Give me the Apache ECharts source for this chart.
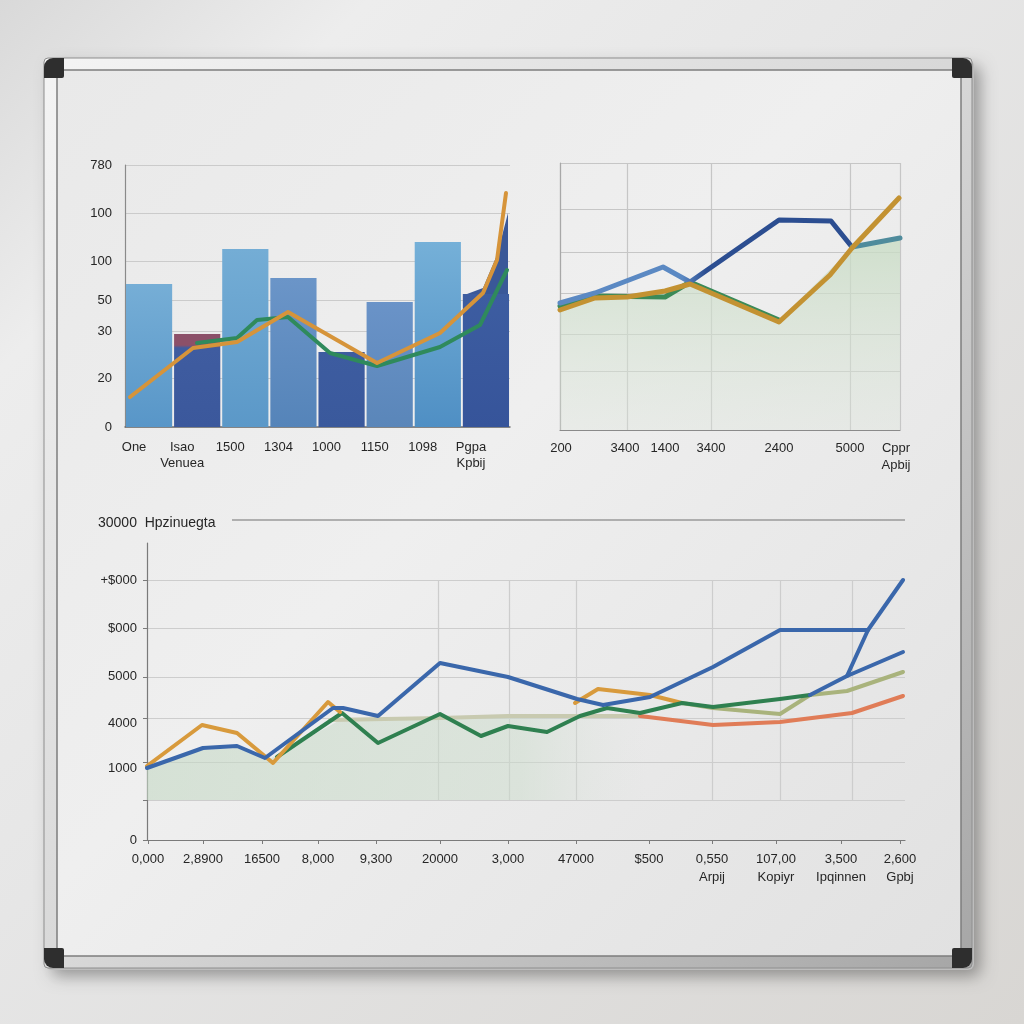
<!DOCTYPE html>
<html><head><meta charset="utf-8">
<script src="https://cdn.jsdelivr.net/npm/echarts@6/dist/echarts.min.js"></script>
<style>html,body{margin:0;padding:0;background:#e4e4e4}#c{width:1024px;height:1024px}</style>
</head><body><div id="c"></div>
<script>
// ---------- Chart 1 (top-left bars + lines) ----------
const c1Categories = ['One', 'Isao\nVenuea', '1500', '1304', '1000', '1150', '1098', 'Pgpa\nKpbij'];
const c1Bars = [143, 93, 178, 149, 75, 125, 185, 133];
const c1YTicks = [0, 49, 96, 127, 166, 214, 262];
const c1YLabels = ['0', '20', '30', '50', '100', '100', '780'];
const c1Orange = [[5, 30], [68, 79], [112, 85], [163, 115], [252, 64], [315, 94], [358, 134], [372, 167], [381, 234]];
const c1Green = [[72, 84], [112, 89], [132, 107], [163, 110], [205, 74], [252, 61], [315, 80], [355, 102], [382, 157]];
const c1Spike = [[342, 133], [358, 139], [372, 172], [383, 214]];

// ---------- Chart 2 (top-right lines) ----------
const c2XGrid = [0, 67, 151, 290, 340];
const c2XLabelPos = [1, 65, 105, 151, 219, 290, 336];
const c2XLabels = ['200', '3400', '1400', '3400', '2400', '5000', 'Cppr\nApbij'];
const c2YGrid = [0, 59, 96, 137, 178, 221, 267];
const c2Blue = [[0, 127], [35, 137], [103, 163], [130, 148], [219, 210], [271, 209], [292, 183]];
const c2Teal = [[292, 183], [340, 192]];
const c2Green = [[0, 124], [35, 134], [105, 133], [130, 148], [219, 110]];
const c2Orange = [[0, 120], [35, 132], [67, 133], [105, 139], [130, 146], [219, 108], [270, 155], [292, 182], [339, 232]];
const c2Area = [[0, 124], [35, 134], [105, 133], [130, 148], [219, 110], [292, 182], [340, 192]];

// ---------- Chart 3 (bottom lines) ----------
const c3Title = '30000  Hpzinuegta';
const c3XLabelPos = [1, 56, 115, 171, 229, 293, 361, 429, 502, 565, 629, 694, 753];
const c3XLabels = ['0,000', '2,8900', '16500', '8,000', '9,300', '20000', '3,000', '47000', '$500',
  '0,550\nArpij', '107,00\nKopiyr', '3,500\nIpqinnen', '2,600\nGpbj'];
const c3YGrid = [0, 40, 78, 122, 163, 212, 260];
const c3YLabelPos = [0, 72, 117, 164, 212, 260];
const c3YLabels = ['0', '1000', '4000', '5000', '$000', '+$000'];
const c3VGrid = [291, 362, 429, 565, 633, 705];
const c3Blue1 = [[0, 72], [56, 92], [90, 94], [118, 82], [186, 132], [196, 132], [231, 124], [293, 177], [361, 163],
  [430, 141], [456, 135], [503, 143], [566, 173], [633, 210], [721, 210], [756, 260]];
const c3Blue2 = [[663, 145], [700, 164], [756, 188]];
const c3Blue3 = [[700, 164], [721, 210]];
const c3Orange1 = [[0, 74], [55, 115], [90, 107], [126, 77], [181, 138], [193, 128]];
const c3Orange2 = [[428, 137], [451, 151], [503, 145], [535, 137]];
const c3Green = [[130, 83], [195, 127], [231, 97], [293, 126], [334, 104], [361, 114], [400, 108], [433, 124],
  [460, 132], [493, 127], [535, 137], [566, 133], [633, 141], [663, 145]];
const c3Olive = [[535, 137], [566, 132], [633, 126], [663, 145], [700, 149], [756, 168]];
const c3OliveFlat = [[183, 120], [293, 122], [361, 124], [430, 124], [493, 124]];
const c3Red = [[493, 124], [566, 115], [633, 118], [705, 127], [756, 144]];
const c3Area = [[0, 72], [56, 90], [90, 92], [121, 80], [193, 120], [293, 122], [361, 124], [430, 124], [500, 124]];

const FONT = "'Liberation Sans','Roboto',sans-serif";
const G = echarts.graphic;
const vgrad = (a, b) => new G.LinearGradient(0, 0, 0, 1, [{offset: 0, color: a}, {offset: 1, color: b}]);

const barStyles = [
  vgrad('#76aed6', '#5896c8'),
  new G.LinearGradient(0, 0, 0, 1, [{offset: 0, color: '#8c5069'}, {offset: 0.12, color: '#8c5069'}, {offset: 0.15, color: '#3f5ca0'}, {offset: 1, color: '#3b589c'}]),
  vgrad('#74add5', '#5b98c8'),
  vgrad('#6b95c8', '#5584b9'),
  vgrad('#3d5ca0', '#3a599c'),
  vgrad('#6a93c8', '#5a86b9'),
  vgrad('#75b0d8', '#4f8fc4'),
  vgrad('#3d5da1', '#36549a')
];

function line(name, xi, yi, data, color, width, z, extra) {
  return Object.assign({
    name, type: 'line', xAxisIndex: xi, yAxisIndex: yi, data, symbol: 'none', z: z || 3,
    lineStyle: {color, width, cap: 'round', join: 'round'}, silent: true, animation: false
  }, extra || {});
}

const labelBase = {color: '#262626', fontSize: 13, fontFamily: FONT};

const option = {
  animation: false,
  graphic: {elements: [
    {type: 'rect', z: -100, shape: {x: 0, y: 0, width: 1024, height: 1024},
      style: {fill: new G.LinearGradient(0, 0, 1, 1, [{offset: 0, color: '#d9d9d9'}, {offset: 0.18, color: '#ededed'}, {offset: 0.45, color: '#e6e6e6'}, {offset: 1, color: '#d8d6d3'}])}},
    {type: 'rect', z: -99, shape: {x: 46, y: 60, width: 928, height: 910, r: 6},
      style: {fill: '#bdbdbd', shadowBlur: 16, shadowColor: 'rgba(0,0,0,0.35)', shadowOffsetX: 6, shadowOffsetY: 6}},
    {type: 'rect', z: -98, shape: {x: 44, y: 58, width: 928, height: 910, r: 4},
      style: {fill: new G.LinearGradient(0, 0, 1, 1, [{offset: 0, color: '#f4f4f4'}, {offset: 0.5, color: '#d8d8d8'}, {offset: 1, color: '#a6a6a6'}]), stroke: '#8e8e8e', lineWidth: 1}},
    {type: 'rect', z: -97, shape: {x: 57, y: 70, width: 904, height: 886},
      style: {fill: new G.LinearGradient(0, 0, 1, 1, [{offset: 0, color: '#e9e9e9'}, {offset: 0.45, color: '#efefef'}, {offset: 1, color: '#e1e1e1'}]), stroke: '#7e7e7e', lineWidth: 1.5}},
    {type: 'rect', z: -96, shape: {x: 44, y: 58, width: 20, height: 20, r: [9, 0, 2, 0]}, style: {fill: '#2e2e2e'}},
    {type: 'rect', z: -96, shape: {x: 952, y: 58, width: 20, height: 20, r: [0, 9, 0, 2]}, style: {fill: '#2e2e2e'}},
    {type: 'rect', z: -96, shape: {x: 44, y: 948, width: 20, height: 20, r: [0, 2, 0, 9]}, style: {fill: '#2e2e2e'}},
    {type: 'rect', z: -96, shape: {x: 952, y: 948, width: 20, height: 20, r: [2, 0, 9, 0]}, style: {fill: '#2e2e2e'}},
    {type: 'text', z: 10, x: 98, y: 523, style: {text: c3Title, fill: '#262626', font: '14px ' + FONT, verticalAlign: 'middle'}},
    {type: 'line', z: 10, shape: {x1: 232, y1: 520, x2: 905, y2: 520}, style: {stroke: '#9a9a9a', lineWidth: 1.5}}
  ]},
  grid: [
    {left: 125, right: 514, top: 165, bottom: 597},
    {left: 560, right: 124, top: 163, bottom: 594},
    {left: 147, right: 119, top: 543, bottom: 184},
    {left: 147, right: 119, top: 580, bottom: 224}
  ],
  xAxis: [
    {gridIndex: 0, type: 'category', data: c1Categories, axisLine: {lineStyle: {color: '#6e6e6e', width: 1.5}},
      axisTick: {show: false}, splitLine: {show: false},
      axisLabel: Object.assign({}, labelBase, {interval: 0, margin: 12, lineHeight: 16, padding: [0, 30, 0, 0]})},
    {gridIndex: 0, type: 'value', min: 0, max: 385, show: false},
    {gridIndex: 1, type: 'value', min: 0, max: 340, axisLine: {lineStyle: {color: '#8a8a8a', width: 1.2}},
      axisTick: {show: false, customValues: c2XGrid},
      splitLine: {show: true, lineStyle: {color: '#c6c6c6', width: 1.2}},
      axisLabel: Object.assign({}, labelBase, {customValues: c2XLabelPos, margin: 10, lineHeight: 17,
        formatter: v => c2XLabels[c2XLabelPos.indexOf(v)]})},
    {gridIndex: 2, type: 'value', min: 0, max: 758, axisLine: {lineStyle: {color: '#7a7a7a', width: 1.2}},
      axisTick: {show: true, length: 4, customValues: c3XLabelPos, lineStyle: {color: '#7a7a7a'}},
      splitLine: {show: false},
      axisLabel: Object.assign({}, labelBase, {customValues: c3XLabelPos, margin: 10, lineHeight: 18,
        formatter: v => c3XLabels[c3XLabelPos.indexOf(v)]})},
    {gridIndex: 3, type: 'value', min: 0, max: 758, axisLine: {show: false}, axisLabel: {show: false},
      axisTick: {show: false, customValues: c3VGrid},
      splitLine: {show: true, lineStyle: {color: '#cdcdcd', width: 1.2}}}
  ],
  yAxis: [
    {gridIndex: 0, type: 'value', min: 0, max: 262, axisLine: {show: true, lineStyle: {color: '#8a8a8a', width: 1.2}},
      axisTick: {show: false, customValues: c1YTicks},
      splitLine: {show: true, lineStyle: {color: '#cbcbcb', width: 1}},
      axisLabel: Object.assign({}, labelBase, {customValues: c1YTicks, margin: 13,
        formatter: v => c1YLabels[c1YTicks.indexOf(v)]})},
    {gridIndex: 1, type: 'value', min: 0, max: 267, axisLine: {show: true, lineStyle: {color: '#a8a8a8', width: 1.2}},
      axisTick: {show: false, customValues: c2YGrid}, axisLabel: {show: false},
      splitLine: {show: true, lineStyle: {color: '#c6c6c6', width: 1.2}}},
    {gridIndex: 2, type: 'value', min: 0, max: 297, axisLine: {show: true, lineStyle: {color: '#7a7a7a', width: 1.2}},
      axisTick: {show: true, length: 4, customValues: c3YGrid, lineStyle: {color: '#7a7a7a'}},
      splitLine: {show: true, lineStyle: {color: '#cdcdcd', width: 1.2}},
      axisLabel: Object.assign({}, labelBase, {customValues: c3YLabelPos, margin: 10,
        formatter: v => c3YLabels[c3YLabelPos.indexOf(v)]})},
    {gridIndex: 3, type: 'value', min: 0, max: 1, show: false}
  ],
  series: [
    // chart 1
    {type: 'bar', xAxisIndex: 0, yAxisIndex: 0, data: c1Bars, barCategoryGap: '4%', silent: true,
      itemStyle: {color: p => barStyles[p.dataIndex]}},
    line('spike', 1, 0, c1Spike, '#3a5898', 0, 2, {areaStyle: {color: '#3a5898', opacity: 1}}),
    line('green1', 1, 0, c1Green, '#2f8a5c', 4, 4),
    line('orange1', 1, 0, c1Orange, '#d6943a', 4, 5),
    // chart 2
    line('area2', 2, 1, c2Area, '#000', 0, 2, {areaStyle: {color: vgrad('rgba(200,220,196,0.8)', 'rgba(222,230,220,0.35)'), opacity: 1}}),
    line('green2', 2, 1, c2Green, '#3b8a58', 5, 4),
    line('blue2', 2, 1, c2Blue, new G.LinearGradient(0, 0, 1, 0, [{offset: 0, color: '#5b89c3'}, {offset: 0.42, color: '#5b89c3'}, {offset: 0.5, color: '#2c4e91'}, {offset: 1, color: '#2c4e91'}]), 5, 5),
    line('teal2', 2, 1, c2Teal, '#4f8b9c', 5, 5),
    line('orange2', 2, 1, c2Orange, '#c39232', 5, 6),
    // chart 3
    line('area3', 3, 2, c3Area, '#000', 0, 1, {areaStyle: {origin: 40, opacity: 1,
      color: new G.LinearGradient(0, 0, 1, 0, [{offset: 0, color: 'rgba(196,216,196,0.6)'}, {offset: 0.75, color: 'rgba(204,220,204,0.5)'}, {offset: 1, color: 'rgba(220,226,220,0)'}])}}),
    line('oliveFlat', 3, 2, c3OliveFlat, '#c8cab0', 4, 2),
    line('red3', 3, 2, c3Red, '#e07c57', 4, 3),
    line('olive3', 3, 2, c3Olive, '#a9b37c', 4, 3),
    line('green3', 3, 2, c3Green, '#2f8050', 4, 4),
    line('orange3a', 3, 2, c3Orange1, '#d89a3c', 4, 4),
    line('orange3b', 3, 2, c3Orange2, '#d89a3c', 4, 3),
    line('blue3b', 3, 2, c3Blue2, '#3a67ab', 4, 5),
    line('blue3c', 3, 2, c3Blue3, '#3a67ab', 4, 5),
    line('blue3a', 3, 2, c3Blue1, '#3a67ab', 4, 6)
  ]
};

const chart = echarts.init(document.getElementById('c'));
chart.setOption(option);
</script>
</body></html>
